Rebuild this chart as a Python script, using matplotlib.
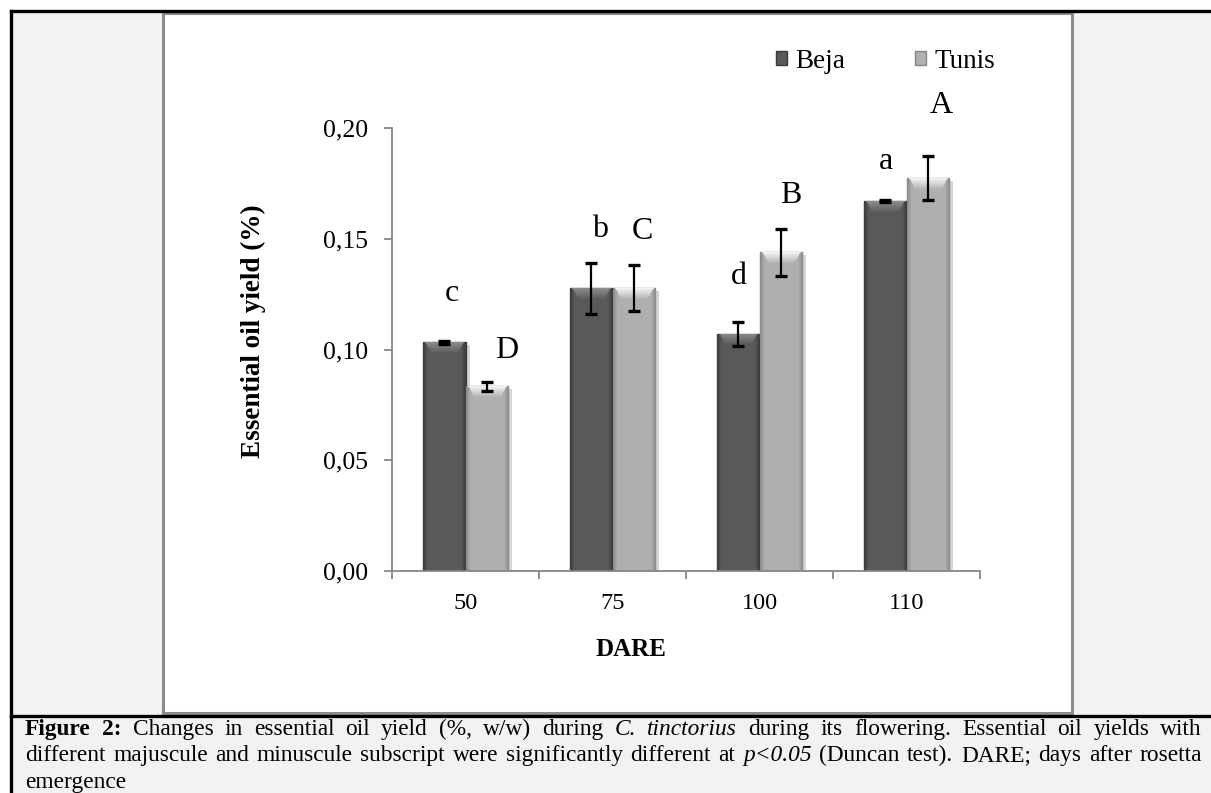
import numpy as np
import matplotlib.pyplot as plt
import matplotlib.patheffects as pe
from matplotlib.patches import Rectangle, Patch
from matplotlib.lines import Line2D
from matplotlib.ticker import FuncFormatter

# data (essential oil yield, %)
dare = ["50", "75", "100", "110"]
beja = [0.1032, 0.1276, 0.1070, 0.1670]
beja_err = [0.0006, 0.0115, 0.0054, 0.0006]
tunis = [0.0833, 0.1276, 0.1439, 0.1774]
tunis_err = [0.0020, 0.0104, 0.0106, 0.0100]
beja_letters = ["c", "b", "d", "a"]
tunis_letters = ["D", "C", "B", "A"]

# letter offsets from bar top (pixels, dx, dy)
beja_off = [(7, 48), (9, 33), (0, 46), (1, 38)]
tunis_off = [(20, 32), (9, 34), (10, 33), (14, 50)]

W, H = 1211, 793
plt.rcParams['font.family'] = ['Liberation Serif', 'DejaVu Serif']
fig = plt.figure(figsize=(W / 100, H / 100), dpi=100)


def fx(px):
    return px / W


def fy(py):
    return 1 - py / H


# table background, white panel and borders (behind the axes)
fig.add_artist(Rectangle((fx(11), 0), 1 - fx(11), fy(11), facecolor='#f2f2f2',
                         edgecolor='none', transform=fig.transFigure, zorder=-10))
fig.add_artist(Rectangle((fx(163), fy(713)), fx(1072) - fx(163), fy(13) - fy(713),
                         facecolor='white', edgecolor='#8c8c8c', lw=2.2,
                         transform=fig.transFigure, zorder=-9))
fig.add_artist(Line2D([fx(11), 1], [fy(11), fy(11)], color='black', lw=2.4, zorder=-8))
fig.add_artist(Line2D([fx(11), 1], [fy(716), fy(716)], color='black', lw=2.4, zorder=-8))
fig.add_artist(Line2D([fx(11), fx(11)], [0, fy(11)], color='black', lw=2.4, zorder=-8))

# plot area
ax = fig.add_axes([fx(392), fy(571), fx(980) - fx(392), fy(128) - fy(571)])
ax.patch.set_alpha(0)
x = np.arange(len(dare))
w = 0.286
ax.set_xlim(-0.5, len(dare) - 0.5)
ax.set_ylim(0, 0.20)

shadow = [pe.SimplePatchShadow(offset=(3, -2), shadow_rgbFace='#888888', alpha=0.35), pe.Normal()]
b1 = ax.bar(x - w / 2, beja, w, color='#595959', edgecolor='#3c3c3c', lw=1,
            zorder=2, path_effects=shadow)
b2 = ax.bar(x + w / 2, tunis, w, color='#b0b0b0', edgecolor='#858585', lw=1,
            zorder=2, path_effects=shadow)

px_x = 588 / len(dare)
px_y = 443 / 0.20


def mix(a, b, t):
    return np.array(a) * (1 - t) + np.array(b) * t


def shade(bars, body, edge, top):
    # bevelled look, drawn inside each bar
    for p in bars:
        x0, bw, bh = p.get_x(), p.get_width(), p.get_height()
        wpx = int(round(bw * px_x))
        hpx = max(int(round(bh * px_y)), 4)
        img = np.empty((hpx, wpx, 3))
        for c in range(wpx):
            t = abs(c - (wpx - 1) / 2) / ((wpx - 1) / 2)
            img[:, c] = mix(body, edge, max(0, t - 0.8) / 0.2)
        bev = min(11, hpx)
        for r in range(bev):
            lo, hi = 3 + r // 2, wpx - 3 - r // 2
            img[r, lo:hi] = mix(top, body, r / bev)
        img[0, 2:-2] = top
        im = ax.imshow(img, extent=(x0, x0 + bw, 0, bh), aspect='auto',
                       origin='upper', interpolation='bilinear', zorder=2.5)
        im.set_clip_path(p)


shade(b1, (0.35, 0.35, 0.35), (0.24, 0.24, 0.24), (0.55, 0.55, 0.55))
shade(b2, (0.69, 0.69, 0.69), (0.55, 0.55, 0.55), (0.95, 0.95, 0.95))
ax.set_xlim(-0.5, len(dare) - 0.5)
ax.set_ylim(0, 0.20)

ax.errorbar(x - w / 2, beja, yerr=beja_err, fmt='none', ecolor='black',
            elinewidth=1.6, capsize=4.5, capthick=2.4, zorder=5)
ax.errorbar(x + w / 2, tunis, yerr=tunis_err, fmt='none', ecolor='black',
            elinewidth=1.6, capsize=4.5, capthick=2.4, zorder=5)

# significance letters
for xs, vals, errs, letters, offs in [(x - w / 2, beja, beja_err, beja_letters, beja_off),
                                      (x + w / 2, tunis, tunis_err, tunis_letters, tunis_off)]:
    for xi, v, e, lab, (dx, dy) in zip(xs, vals, errs, letters, offs):
        ax.annotate(lab, (xi, v + e), xytext=(dx * 0.72, dy * 0.72),
                    textcoords='offset points', ha='center', va='center',
                    fontsize=23, annotation_clip=False)

# axes styling
for s in ['top', 'right']:
    ax.spines[s].set_visible(False)
for s in ['left', 'bottom']:
    ax.spines[s].set_color('#868686')
    ax.spines[s].set_linewidth(1.3)
ax.set_xticks(x)
ax.set_xticklabels(dare)
ax.set_xticks(np.arange(-0.5, len(dare), 1), minor=True)
ax.tick_params(axis='x', which='major', length=0, pad=16, labelsize=17.5)
ax.tick_params(axis='x', which='minor', length=6, width=1.3, color='#868686', direction='out')
ax.set_yticks([0, 0.05, 0.10, 0.15, 0.20])
ax.yaxis.set_major_formatter(FuncFormatter(lambda v, p: f"{v:.2f}".replace('.', ',')))
ax.tick_params(axis='y', length=6, width=1.3, color='#868686', direction='out',
               pad=11, labelsize=18.5)

ax.set_ylabel("Essential oil yield (%)", fontsize=19.5, fontweight='bold', va='center')
ax.yaxis.set_label_coords((253 - 392) / 588, (571 - 331) / 443)
ax.set_xlabel("DARE", fontsize=18, fontweight='bold', va='center')
ax.xaxis.set_label_coords((631 - 392) / 588, (571 - 650) / 443)

# legend
handles = [Patch(facecolor='#595959', edgecolor='#3c3c3c'),
           Patch(facecolor='#b0b0b0', edgecolor='#858585')]
fig.legend(handles, ["Beja", "Tunis"], loc='center left', bbox_to_anchor=(fx(776), fy(61)),
           ncol=2, frameon=False, fontsize=19.5, handlelength=0.4, handleheight=0.4,
           handletextpad=0.33, columnspacing=2.55, borderpad=0, borderaxespad=0)

# caption, justified like the source
caption = [
    ([("Figure", 'b'), ("2:", 'b')] +
     [(t, 'n') for t in "Changes in essential oil yield (%, w/w) during".split()] +
     [("C.", 'i'), ("tinctorius", 'i')] +
     [(t, 'n') for t in "during its flowering. Essential oil yields with".split()], 735, True),
    ([(t, 'n') for t in "different majuscule and minuscule subscript were significantly different at".split()] +
     [("p<0.05", 'i')] +
     [(t, 'n') for t in "(Duncan test). DARE; days after rosetta".split()], 761, True),
    ([("emergence", 'n')], 788, False),
]
cap_size = 16.8
renderer = fig.canvas.get_renderer()
for words, base, justify in caption:
    texts = []
    for word, st in words:
        texts.append(fig.text(0, fy(base), word, fontsize=cap_size, va='baseline',
                              fontweight='bold' if st == 'b' else 'normal',
                              fontstyle='italic' if st == 'i' else 'normal'))
    widths = [t.get_window_extent(renderer).width for t in texts]
    if justify and len(texts) > 1:
        gap = (1202 - 25 - sum(widths)) / (len(texts) - 1)
    else:
        gap = 5
    pos = 25
    for t, wd in zip(texts, widths):
        t.set_x(fx(pos))
        pos += wd + gap

fig.savefig("out.png", dpi=100)
